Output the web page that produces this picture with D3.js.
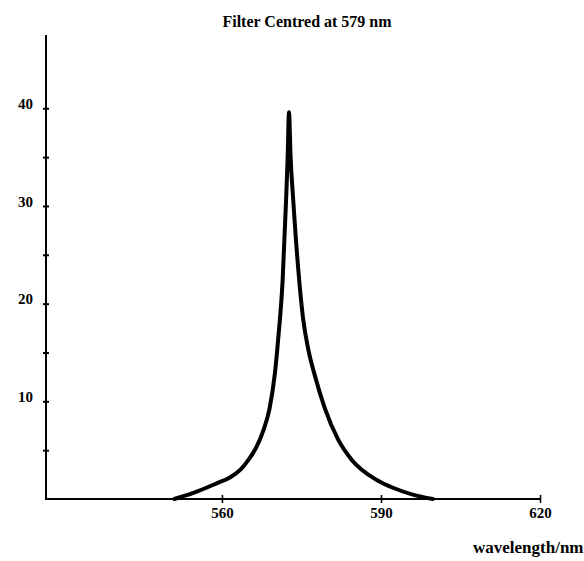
<!DOCTYPE html>
<html>
<head>
<meta charset="utf-8">
<script src="https://cdn.jsdelivr.net/npm/d3@7"></script>
<style>
  html, body { margin: 0; padding: 0; background: #fff; overflow: hidden; }
  svg { display: block; }
</style>
</head>
<body>
<svg id="chart" width="584" height="561"></svg>
<script>
// ---- data ----
const title = "Filter Centred at 579 nm";
const xLabel = "wavelength/nm";
const wavelengths = [551.0, 554.5, 559.0, 561.5, 563.5, 565.0, 566.5, 567.8, 569.0, 570.0, 570.6, 571.45, 572.1, 572.4, 572.65,
                     572.95, 573.45, 574.4, 575.3, 576.3, 577.6, 579.4, 581.9, 584.5, 589.2, 592.5, 596.0, 599.8];
const transmission = [0, 0.6, 1.6, 2.2, 3.0, 4.0, 5.3, 7.0, 9.3, 12.9, 16.3, 22.4, 30.6, 35, 39.6,
                      35, 30.6, 23.5, 18.5, 15.3, 12.5, 9.3, 6.1, 4.0, 1.95, 1.1, 0.45, 0];
const xTickValues = [560, 590, 620];
const yTickValues = [5, 10, 15, 20, 25, 30, 35, 40];
const yTickLabels = [10, 20, 30, 40];

// ---- layout ----
const svg = d3.select("#chart");
const x = d3.scaleLinear().domain([527, 620]).range([47, 540]);
const y = d3.scaleLinear().domain([0, 47.5]).range([499, 35]);

const ink = "#000";
const serif = "Liberation Serif, Times New Roman, serif";

// title
svg.append("text")
  .attr("x", 307).attr("y", 27)
  .attr("text-anchor", "middle")
  .attr("font-family", serif)
  .attr("font-weight", "bold")
  .attr("font-size", 16)
  .attr("fill", ink)
  .text(title);

// y axis
const yAxis = d3.axisLeft(y).tickValues(yTickValues).tickSize(0).tickFormat("");
const gy = svg.append("g").attr("transform", `translate(${x(527) - 1},0)`).call(yAxis);
gy.select(".domain").remove();
gy.append("line").attr("x1", 0).attr("x2", 0).attr("y1", y(47.5)).attr("y2", y(0) + 1)
  .attr("stroke", ink).attr("stroke-width", 2);
gy.selectAll(".tick").append("line")
  .attr("x1", -3).attr("x2", 3).attr("stroke", ink).attr("stroke-width", 2);
gy.selectAll(".tick")
  .filter(d => yTickLabels.includes(d))
  .append("text")
  .attr("x", -13).attr("y", -5).attr("dy", "0.35em")
  .attr("text-anchor", "end")
  .attr("font-family", serif)
  .attr("font-weight", "bold")
  .attr("font-size", 15)
  .attr("fill", ink)
  .text(d => d);

// x axis
const xAxis = d3.axisBottom(x).tickValues(xTickValues).tickSize(0).tickFormat("");
const gx = svg.append("g").attr("transform", `translate(0,${y(0)})`).call(xAxis);
gx.select(".domain").remove();
gx.append("line").attr("x1", x(527) - 2).attr("x2", x(620)).attr("y1", 0).attr("y2", 0)
  .attr("stroke", ink).attr("stroke-width", 2);
gx.selectAll(".tick").append("line")
  .attr("y1", -4).attr("y2", 4).attr("stroke", ink).attr("stroke-width", 1.6);
gx.selectAll(".tick").append("text")
  .attr("y", 19)
  .attr("text-anchor", "middle")
  .attr("font-family", serif)
  .attr("font-weight", "bold")
  .attr("font-size", 15)
  .attr("fill", ink)
  .text(d => d);

// x label
svg.append("text")
  .attr("x", 473).attr("y", 553)
  .attr("font-family", serif)
  .attr("font-weight", "bold")
  .attr("font-size", 17)
  .attr("fill", ink)
  .text(xLabel);

// curve
const pts = wavelengths.map((w, i) => [w, transmission[i]]);
const line = d3.line()
  .x(d => x(d[0]))
  .y(d => y(d[1]))
  .curve(d3.curveMonotoneX);
svg.append("path")
  .datum(pts)
  .attr("d", line)
  .attr("fill", "none")
  .attr("stroke", ink)
  .attr("stroke-width", 4)
  .attr("stroke-linejoin", "round")
  .attr("stroke-linecap", "round");
</script>
</body>
</html>
